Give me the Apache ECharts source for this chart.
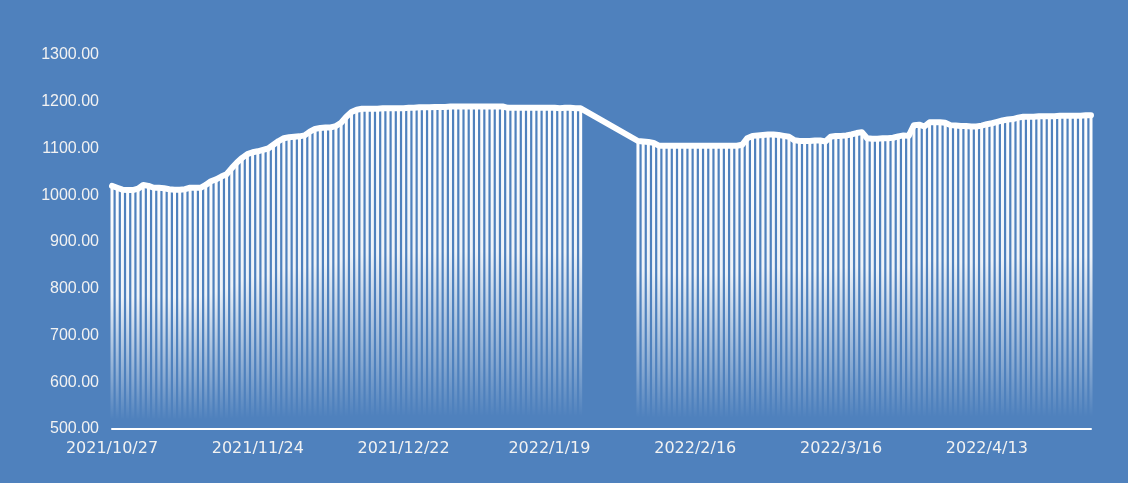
<!DOCTYPE html>
<html>
<head>
<meta charset="utf-8">
<script src="https://cdn.jsdelivr.net/npm/echarts@6/dist/echarts.min.js"></script>
<style>
html,body{margin:0;padding:0;background:#4F81BD;}
#chart{width:1128px;height:483px;}
</style>
</head>
<body>
<div id="chart"></div>
<script>
// Categories: consecutive calendar days starting 2021/10/27
const startDate = [2021, 10, 27];
const dayCount = 189;
// Values per day (null = no data)
const values = [
  1020,1016,1012,1011,1011,1014,1022,1020,1016,1016,
  1015,1013,1012,1012,1013,1016,1016,1016,1022,1030,
  1034,1040,1045,1058,1070,1080,1088,1092,1094,1097,
  1100,1108,1116,1122,1124,1125,1126,1128,1136,1142,
  1144,1145,1145,1148,1155,1168,1178,1183,1185,1185,
  1185,1185,1186,1186,1186,1186,1186,1187,1187,1188,
  1188,1188,1189,1189,1189,1190,1190,1190,1190,1190,
  1190,1190,1190,1190,1190,1190,1187,1187,1187,1187,
  1187,1187,1187,1187,1187,1187,1186,1187,1187,1186,
  1186,null,null,null,null,null,null,null,null,null,
  null,1116,1115,1114,1112,1106,1106,1106,1106,1106,
  1106,1106,1106,1106,1106,1106,1106,1106,1106,1106,
  1106,1108,1122,1127,1128,1129,1130,1130,1129,1127,
  1125,1118,1116,1116,1116,1117,1117,1115,1125,1127,
  1127,1128,1130,1133,1135,1122,1121,1121,1122,1122,
  1123,1126,1128,1127,1150,1151,1147,1156,1156,1156,
  1155,1150,1149,1148,1148,1147,1147,1149,1152,1154,
  1157,1160,1162,1163,1166,1168,1168,1168,1169,1169,
  1169,1169,1170,1170,1170,1170,1170,1171,1171
];
const yMin = 500, yMax = 1300, yStep = 100;

const categories = [];
{
  const d = new Date(startDate[0], startDate[1]-1, startDate[2]);
  for (let i = 0; i < dayCount; i++) {
    categories.push(d.getFullYear() + '/' + (d.getMonth()+1) + '/' + d.getDate());
    d.setDate(d.getDate()+1);
  }
}

const chart = echarts.init(document.getElementById('chart'), null, {renderer:'canvas'});
chart.setOption({
  backgroundColor: '#4F81BD',
  animation: false,
  grid: {left: 112, right: 37, top: 55, bottom: 54, containLabel: false},
  xAxis: {
    type: 'category',
    data: categories,
    boundaryGap: false,
    axisLine: {show: true, lineStyle: {color: '#ffffff', width: 2}},
    axisTick: {show: false},
    splitLine: {show: false},
    axisLabel: {
      interval: 27,
      color: '#F2F2F2',
      fontFamily: 'DejaVu Sans',
      fontSize: 16,
      margin: 12
    }
  },
  yAxis: {
    type: 'value',
    min: yMin, max: yMax, interval: yStep,
    axisLine: {show: false},
    axisTick: {show: false},
    splitLine: {show: false},
    axisLabel: {
      color: '#F2F2F2',
      fontFamily: 'Liberation Sans',
      fontSize: 16,
      margin: 13,
      formatter: v => v.toFixed(2)
    }
  },
  series: [
    {
      type: 'bar',
      data: values,
      barWidth: 3,
      z: 2,
      itemStyle: {
        color: new echarts.graphic.LinearGradient(0, 0, 0, 1, [
          {offset: 0, color: 'rgba(255,255,255,1)'},
          {offset: 0.45, color: 'rgba(255,255,255,0.9)'},
          {offset: 0.8, color: 'rgba(255,255,255,0.3)'},
          {offset: 0.96, color: 'rgba(255,255,255,0)'},
          {offset: 1, color: 'rgba(255,255,255,0)'}
        ])
      }
    },
    {
      type: 'line',
      data: values,
      connectNulls: true,
      symbol: 'none',
      z: 3,
      lineStyle: {color: '#ffffff', width: 6, cap: 'round', join: 'round'}
    }
  ]
});
</script>
</body>
</html>
